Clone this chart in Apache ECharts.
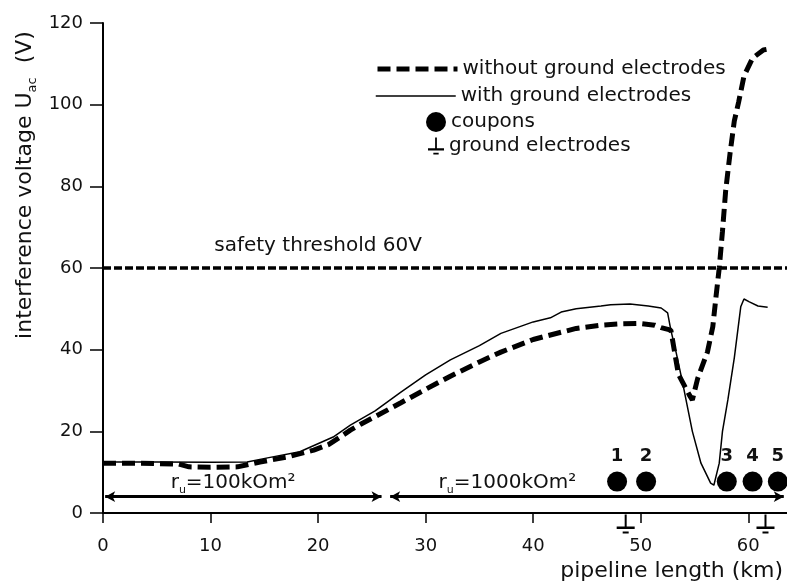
<!DOCTYPE html>
<html><head><meta charset="utf-8">
<script src="https://cdn.jsdelivr.net/npm/echarts@6/dist/echarts.min.js"></script>
<style>html,body{margin:0;padding:0;background:#fff}#c{width:787px;height:585px}</style>
</head><body><div id="c"></div>
<script>
// ---- data ----
const withoutKm = [0,3,7,8,10,12.5,14.6,17.1,19.6,21,22,23,24,25.3,27.7,30,32.3,35,37,40,41.6,44,46.3,48,50,51.3,51.9,52.8,53.5,54.5,54.8,55.3,56.2,56.7,57.0,57.3,57.6,57.9,58.3,58.7,59.1,59.6,60.4,61.4,62.2];
const withoutV  = [12.2,12.2,12.0,11.3,11.2,11.3,12.5,13.7,15.4,16.8,18.5,20.3,21.8,23.6,27,30.3,33.5,37,39.4,42.5,43.6,45.2,46,46.3,46.4,46,45.4,44.8,34,29,27.7,33,39.4,45.6,53,60,69,79,88,96,100.6,107,111.4,113.4,113.8];
const withKm = [0,5,10,13.4,15.3,18.3,21.4,23,25.3,27.7,30,32.3,35,37,40,41.6,42.6,44,46.3,47.2,49,50.7,51.9,52.5,52.8,53.3,53.9,54.8,55.6,56.5,56.8,57.3,57.6,58.1,58.7,59.3,59.6,60.1,60.9,61.8];
const withV  = [12.5,12.5,12.4,12.5,13.5,15,18.6,21.5,25,29.6,33.8,37.5,41,44,46.8,47.8,49.2,50,50.7,51,51.2,50.7,50.2,49,44.8,39.2,31.8,20,12.2,7.3,6.8,12.2,20,27.7,38,50.5,52.4,51.7,50.7,50.4];
const couponKm = [47.8,50.5,58.0,60.4,62.75];
const couponV = [7.7,7.7,7.7,7.7,7.7];
const couponLabels = ['1','2','3','4','5'];
const groundKm = [48.6,61.6];
const threshold = 60;
const thresholdText = 'safety threshold 60V';
const zoneArrows = [[0.2,25.9],[26.7,63.3]];
const zoneArrowV = 4;
const zoneLabelKm = [12.1,37.6];
const zoneLabelV = 7.4;
const zoneLabels = ['100kOm²','1000kOm²'];
const xTicks = [0,10,20,30,40,50,60];
const yTicks = [0,20,40,60,80,100,120];
const seriesNames = ['without ground electrodes','with ground electrodes','coupons','ground electrodes'];

const FONT = 'DejaVu Sans';
const TXT = '#111';
const groundPath = 'path://M8,0h2v12h-2z M0,12h18v2.5h-18z M6,17h6v2h-6z';

const chart = echarts.init(document.getElementById('c'), null, {renderer:'canvas'});
const legendBase = {orient:'vertical', padding:0, selectedMode:false, itemGap:0,
  textStyle:{fontFamily:FONT, fontSize:20, color:TXT, lineHeight:22}};
chart.setOption({
  animation:false,
  backgroundColor:'#fff',
  textStyle:{fontFamily:FONT},
  grid:{left:103, top:23, right:0, bottom:72, containLabel:false},
  legend:[
    Object.assign({}, legendBase, {data:[seriesNames[0]], left:375, top:58, itemWidth:80, itemHeight:14,
      itemStyle:{opacity:0}, lineStyle:{color:'#000', width:5, type:[13,6]}}),
    Object.assign({}, legendBase, {data:[seriesNames[1]], left:375, top:85, itemWidth:80, itemHeight:14,
      itemStyle:{opacity:0}, lineStyle:{color:'#000', width:1.5, type:'solid'}}),
    Object.assign({}, legendBase, {data:[seriesNames[2]], left:426, top:111, itemWidth:20, itemHeight:20,
      itemStyle:{color:'#000', opacity:1}}),
    Object.assign({}, legendBase, {data:[seriesNames[3]], left:428, top:135, itemWidth:16, itemHeight:20,
      itemStyle:{color:'#000', opacity:1}})
  ],
  xAxis:{type:'value', min:0, max:63.6, interval:10,
    name:'pipeline length (km)', nameLocation:'end', nameGap:-4,
    nameTextStyle:{fontFamily:FONT, fontSize:22, color:TXT, align:'right', verticalAlign:'top', padding:[47,0,0,0]},
    axisLine:{lineStyle:{color:'#000', width:2}},
    axisTick:{length:10, customValues:xTicks, lineStyle:{color:'#000', width:1.5}},
    axisLabel:{customValues:xTicks, margin:24, fontSize:18, color:TXT, fontFamily:FONT},
    splitLine:{show:false}},
  yAxis:{type:'value', min:0, max:120, interval:20,
    axisLine:{show:true, lineStyle:{color:'#000', width:2}},
    axisTick:{show:true, length:13, customValues:yTicks, lineStyle:{color:'#000', width:1.5}},
    axisLabel:{customValues:yTicks, margin:20, fontSize:18, color:TXT, fontFamily:FONT},
    splitLine:{show:false}},
  graphic:[{type:'text', x:25, y:185, rotation:Math.PI/2,
    style:{text:'{a|interference voltage U}{s|ac}{a|  (V)}', align:'center', verticalAlign:'middle',
      rich:{a:{fontFamily:FONT, fontSize:22, fill:TXT, lineHeight:28, verticalAlign:'middle'},
            s:{fontFamily:FONT, fontSize:13, fill:TXT, lineHeight:15, verticalAlign:'bottom'}}}}],
  series:[
    {name:seriesNames[0], type:'line', symbol:'none', z:3,
     data:withoutKm.map((k,i)=>[k,withoutV[i]]),
     lineStyle:{color:'#000', width:5, type:[13,6]}, itemStyle:{color:'#000'}},
    {name:seriesNames[1], type:'line', symbol:'none', z:4,
     data:withKm.map((k,i)=>[k,withV[i]]),
     lineStyle:{color:'#000', width:1.5}, itemStyle:{color:'#000'},
     markLine:{silent:true, symbol:'none', label:{show:false},
       lineStyle:{color:'#000', width:3.5, type:[8,3]}, data:[{yAxis:threshold}]}},
    {name:seriesNames[2], type:'scatter', symbol:'circle', symbolSize:20, z:5,
     itemStyle:{color:'#000', opacity:1},
     data:couponKm.map((k,i)=>[k,couponV[i]]),
     label:{show:true, position:'top', distance:6, fontSize:18, fontWeight:'bold', color:TXT, fontFamily:FONT,
       formatter:p=>couponLabels[p.dataIndex]}},
    {name:seriesNames[3], type:'scatter', symbol:groundPath, symbolSize:[18,19], symbolOffset:[0,11],
     clip:false, z:5, itemStyle:{color:'#000', opacity:1},
     data:groundKm.map(k=>[k,0])},
    {name:'notes', type:'scatter', symbolSize:0, z:6, silent:true,
     itemStyle:{color:'#000', opacity:1},
     data:[[zoneLabelKm[0],zoneLabelV],[zoneLabelKm[1],zoneLabelV],[20,65.4]],
     label:{show:true, position:'inside', color:TXT, opacity:1, fontFamily:FONT,
       formatter:p=>p.dataIndex<2 ? '{r|r}{u|u}{n|='+zoneLabels[p.dataIndex]+'}' : '{n|'+thresholdText+'}',
       rich:{r:{fontSize:20, fontFamily:FONT, color:TXT, lineHeight:26, verticalAlign:'middle'},
             u:{fontSize:11, fontFamily:FONT, color:TXT, lineHeight:12, verticalAlign:'bottom'},
             n:{fontSize:20, fontFamily:FONT, color:TXT, lineHeight:26, verticalAlign:'middle'}}},
     markLine:{silent:true, symbol:['arrow','arrow'], symbolSize:[8,10], label:{show:false},
       lineStyle:{color:'#000', width:3, type:'solid'},
       data:zoneArrows.map(s=>[{coord:[s[0],zoneArrowV]},{coord:[s[1],zoneArrowV]}])}}
  ]
});
</script></body></html>
